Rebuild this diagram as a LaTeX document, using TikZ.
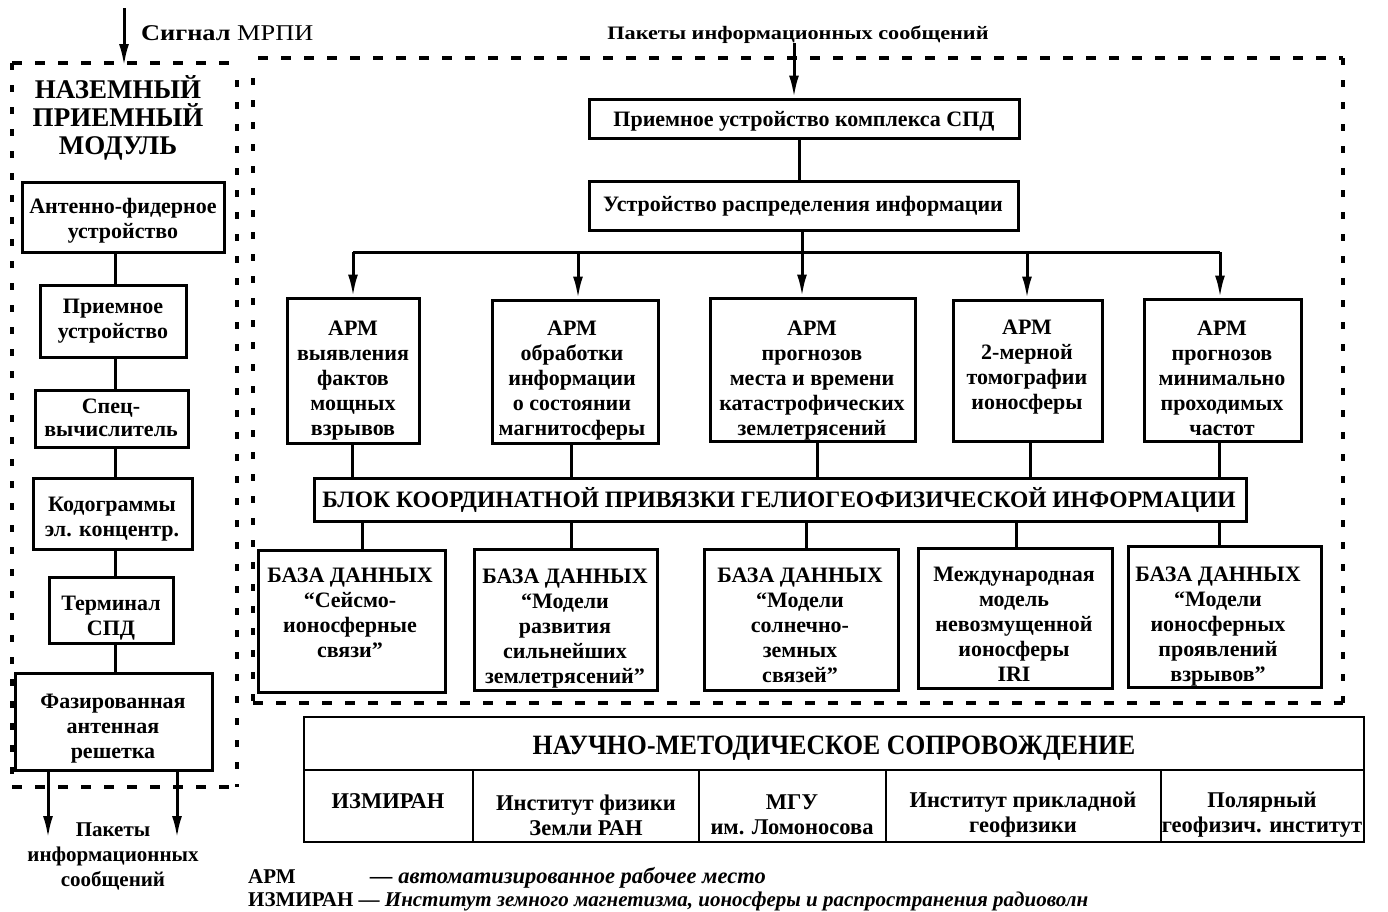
\documentclass[tikz,border=0pt]{standalone}
\usepackage{fontspec}
\setmainfont{Liberation Serif}
\newfontfamily\widefont[FakeStretch=1.17]{Liberation Serif}
\newfontfamily\condfont[FakeStretch=0.92]{Liberation Serif}
\usetikzlibrary{arrows.meta,fit}
\newcommand{\bxf}{\fontsize{22}{25}\selectfont\bfseries}
\begin{document}
\begin{tikzpicture}[x=1pt,y=-1pt,
 box/.style={draw,line width=3pt,inner sep=0pt,rectangle},
 txt/.style={align=center,inner sep=0pt,font=\bxf},
 conn/.style={line width=3pt},
 arr/.style={line width=3pt,-{Latex[length=22pt,width=10pt]}},
 dashh/.style={line width=3.5pt,dash pattern=on 10pt off 13pt},
 dashv/.style={line width=3.5pt,dash pattern=on 7pt off 15pt},
 tcell/.style={draw,line width=2.5pt,inner sep=0pt,rectangle},
 ttxt/.style={align=center,inner sep=0pt,font=\fontsize{22.5}{25}\selectfont\bfseries},
 lgd/.style={anchor=base west,inner sep=0pt,font=\fontsize{21}{24}\selectfont\bfseries},
]
\fill[white] (0,0) rectangle (1388,911);
\useasboundingbox (0,0) rectangle (1388,911);

% dashed frames
\draw[dashh] (12,63) -- (237,63);
\draw[dashv] (12,63) -- (12,787);
\draw[dashv] (237,80) -- (237,787);
\draw[dashh] (12,787) -- (237,787);
\draw[dashh] (258,58) -- (1343,58);
\draw[dashv] (253,78) -- (253,703);
\draw[dashv] (1343,58) -- (1343,703);
\draw[dashh] (253,703) -- (1343,703);

% left column
\coordinate (m0) at (124,8);
\coordinate (m1) at (124,66);
\draw[arr] (m0) -- (m1);
\node[anchor=base west,inner sep=0pt] (mrpi) at (141,40) {\widefont\fontsize{22.5}{25}\selectfont\bfseries Сигнал \mdseries МРПИ};
\node[txt,font=\fontsize{27}{28}\selectfont\bfseries] (ttl) at (118,118) {НАЗЕМНЫЙ\\ПРИЕМНЫЙ\\МОДУЛЬ};
\node[box,fit={(22,182)(224,252)}] (l1) {};
\node[txt] (l1t) at (123,221) {Антенно-фидерное\\устройство};
\node[box,fit={(40,285)(186,357)}] (l2) {};
\node[txt] (l2t) at (113,321) {Приемное\\устройство};
\node[box,fit={(35,390)(188,447)}] (l3) {};
\node[txt,font=\fontsize{22}{23}\selectfont\bfseries] (l3t) at (111,418) {Спец-\\вычислитель};
\node[box,fit={(33,478)(192,549)}] (l4) {};
\node[txt] (l4t) at (112,519) {Кодограммы\\эл. концентр.};
\node[box,fit={(49,577)(173,643)}] (l5) {};
\node[txt] (l5t) at (111,618) {Терминал\\СПД};
\node[box,fit={(15,673)(212,770)}] (l6) {};
\node[txt] (l6t) at (113,729) {Фазированная\\антенная\\решетка};
\coordinate (lx) at (115,0);
\foreach \a/\b in {l1/l2,l2/l3,l3/l4,l4/l5,l5/l6} \draw[conn] (\a.south -| lx) -- (\b.north -| lx);
\coordinate (o1) at (48,838);
\coordinate (o2) at (177,838);
\draw[arr] (l6.south -| o1) -- (o1);
\draw[arr] (l6.south -| o2) -- (o2);
\node[txt,font=\fontsize{21}{25}\selectfont\bfseries] (outl) at (113,856) {Пакеты\\информационных\\сообщений};

% top chain
\node[anchor=base,inner sep=0pt,font=\widefont\fontsize{19}{22}\selectfont\bfseries] (pk) at (798,39) {Пакеты информационных сообщений};
\node[box,fit={(589,99)(1019,138)}] (A) {};
\node[txt] (At) at (804,121) {Приемное устройство комплекса СПД};
\node[box,fit={(589,181)(1018,230)}] (B) {};
\node[txt] (Bt) at (803,206) {Устройство распределения информации};
\coordinate (pkx) at (794,0);
\draw[arr] (pk.south -| pkx) -- (A.north -| pkx);
\coordinate (abx) at (799,0);
\draw[conn] (A.south -| abx) -- (B.north -| abx);

% ARM boxes
\node[box,fit={(287,298)(419,443)}] (arm1) {};
\node[txt] (arm1t) at (353,381) {АРМ\\выявления\\фактов\\мощных\\взрывов};
\node[box,fit={(492,300)(658,443)}] (arm2) {};
\node[txt] (arm2t) at (572,381) {АРМ\\обработки\\информации\\о состоянии\\магнитосферы};
\node[box,fit={(710,298)(915,441)}] (arm3) {};
\node[txt] (arm3t) at (812,381) {АРМ\\прогнозов\\места и времени\\катастрофических\\землетрясений};
\node[box,fit={(953,300)(1102,441)}] (arm4) {};
\node[txt] (arm4t) at (1027,367) {АРМ\\2-мерной\\томографии\\ионосферы};
\node[box,fit={(1144,299)(1301,441)}] (arm5) {};
\node[txt] (arm5t) at (1222,378) {АРМ\\прогнозов\\минимально\\проходимых\\частот};

% bus
\coordinate (b1) at (353,252);
\coordinate (b2) at (578,252);
\coordinate (b3) at (802,252);
\coordinate (b4) at (1027,252);
\coordinate (b5) at (1220,252);
\draw[conn] (B.south -| b3) -- (b3);
\draw[conn] (b1) -- (b5);
\foreach \i in {1,...,5} \draw[arr] (b\i) -- (arm\i.north -| b\i);

% block
\node[box,fit={(314,478)(1246,521)}] (blk) {};
\node[txt,font=\fontsize{23.5}{26}\selectfont\bfseries] (blkt) at (779,500) {БЛОК КООРДИНАТНОЙ ПРИВЯЗКИ ГЕЛИОГЕОФИЗИЧЕСКОЙ ИНФОРМАЦИИ};
\foreach \i/\x in {1/352,2/571,3/817,4/1030,5/1219} {
  \coordinate (ab\i) at (\x,0);
  \draw[conn] (arm\i.south -| ab\i) -- (blk.north -| ab\i);
}

% databases
\node[box,fit={(258,550)(445,692)}] (db1) {};
\node[txt] (db1t) at (350,613) {БАЗА ДАННЫХ\\“Сейсмо-\\ионосферные\\связи”};
\node[box,fit={(474,549)(657,690)}] (db2) {};
\node[txt] (db2t) at (565,629) {БАЗА ДАННЫХ\\“Модели\\развития\\сильнейших\\землетрясений”};
\node[box,fit={(704,549)(898,690)}] (db3) {};
\node[txt] (db3t) at (800,625) {БАЗА ДАННЫХ\\“Модели\\солнечно-\\земных\\связей”};
\node[box,fit={(918,548)(1112,688)}] (db4) {};
\node[txt] (db4t) at (1014,624) {Международная\\модель\\невозмущенной\\ионосферы\\IRI};
\node[box,fit={(1128,546)(1321,687)}] (db5) {};
\node[txt] (db5t) at (1218,627) {БАЗА ДАННЫХ\\“Модели\\ионосферных\\проявлений\\взрывов”};
\foreach \i/\x in {1/362,2/571,3/806,4/1016,5/1219} {
  \coordinate (bd\i) at (\x,0);
  \draw[conn] (blk.south -| bd\i) -- (db\i.north -| bd\i);
}

% table
\node[tcell,fit={(304,717)(1364,770)}] (nm) {};
\node[ttxt,font=\condfont\fontsize{28}{30}\selectfont\bfseries] (nmt) at (834,748) {НАУЧНО-МЕТОДИЧЕСКОЕ СОПРОВОЖДЕНИЕ};
\node[tcell,fit={(304,770)(473,842)}] (c1) {};
\node[ttxt] (c1t) at (388,801) {ИЗМИРАН};
\node[tcell,fit={(473,770)(699,842)}] (c2) {};
\node[ttxt] (c2t) at (586,815) {Институт физики\\Земли РАН};
\node[tcell,fit={(699,770)(886,842)}] (c3) {};
\node[ttxt] (c3t) at (792,815) {МГУ\\им. Ломоносова};
\node[tcell,fit={(886,770)(1161,842)}] (c4) {};
\node[ttxt] (c4t) at (1023,815) {Институт прикладной\\геофизики};
\node[tcell,fit={(1161,770)(1364,842)}] (c5) {};
\node[ttxt] (c5t) at (1262,815) {Полярный\\геофизич. институт};

% legend
\node[lgd] (lg1a) at (248,883) {АРМ};
\node[lgd,font=\fontsize{22.5}{24}\selectfont\bfseries\itshape] (lg1b) at (370,883) {— автоматизированное рабочее место};
\node[lgd] (lg2) at (248,906) {ИЗМИРАН — \itshape Институт земного магнетизма, ионосферы и распространения радиоволн};
\end{tikzpicture}
\end{document}
